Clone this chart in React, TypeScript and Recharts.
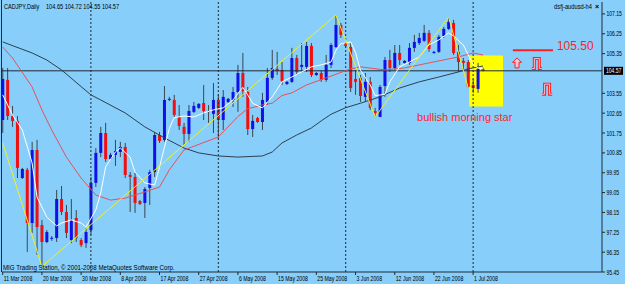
import React from 'react';
import {
  ComposedChart,
  Bar,
  Line,
  XAxis,
  YAxis,
  ReferenceLine,
  ReferenceArea,
  ReferenceDot,
} from 'recharts';

// ---------- data ----------
const dateLabels = [
  '11 Mar 2008', '20 Mar 2008', '30 Mar 2008', '8 Apr 2008', '17 Apr 2008',
  '27 Apr 2008', '6 May 2008', '15 May 2008', '25 May 2008', '3 Jun 2008',
  '12 Jun 2008', '22 Jun 2008', '1 Jul 2008',
];
const labelBars = [0, 8, 16, 24, 32, 40, 48, 56, 64, 72, 80, 88, 96];
const monthStartBars = [18, 44, 70, 96];
const priceTicks = [107.15, 106.25, 105.35, 103.55, 102.65, 101.75, 100.85, 99.95, 99.05, 98.15, 97.25, 96.35, 95.45];

const opens = [
  102.34, 104.16, 102.52, 102.3, 99.71, 100.08, 97.67, 100.98, 97.58, 96.81,
  96.98, 96.99, 98.76, 98.17, 96.9, 97.9, 96.9, 96.76, 97.35, 99.49,
  100.85, 101.75, 100.57, 100.76, 100.89, 101.12, 99.85, 99.76, 98.67, 98.58,
  99.26, 99.98, 101.66, 101.44, 103.28, 103.25, 102.48, 102.03, 101.71, 102.71,
  102.89, 103.11, 102.75, 102.62, 103.25, 102.34, 103.16, 103.25, 103.61, 104.47,
  103.61, 101.93, 102.43, 102.25, 103.16, 104.25, 104.66, 104.61, 103.97, 104.07,
  105.15, 104.75, 104.75, 105.7, 104.38, 104.47, 104.16, 104.84, 105.65, 106.65,
  105.83, 105.65, 104.2, 104.25, 103.39, 104.07, 102.75, 102.48, 103.88, 105.06,
  104.7, 105.38, 104.93, 104.93, 105.61, 105.83, 105.93, 106.29, 105.38, 105.43,
  106.15, 106.47, 106.74, 105.43, 105.02, 104.97, 103.93, 103.75, 104.65,
];
const highs = [
  104.7, 104.7, 102.98, 102.52, 100.17, 100.17, 101.35, 101.44, 97.81, 97.35,
  97.08, 99.17, 99.35, 98.49, 98.76, 98.26, 96.99, 97.44, 99.76, 101.07,
  102.03, 102.21, 100.85, 101.44, 101.35, 101.3, 99.98, 99.94, 98.71, 99.3,
  100.08, 101.8, 101.8, 103.88, 103.39, 103.48, 103.02, 102.21, 103.02, 103.16,
  103.11, 103.93, 103.02, 104.02, 103.48, 103.7, 103.34, 103.84, 104.84, 105.38,
  103.84, 102.57, 102.48, 103.57, 104.7, 105.52, 105.43, 104.97, 104.11, 105.61,
  105.29, 105.83, 105.88, 105.83, 104.52, 104.57, 105.29, 105.83, 107.1, 106.74,
  105.88, 105.83, 104.61, 104.38, 104.47, 104.29, 102.89, 103.93, 105.2, 105.52,
  105.74, 105.74, 105.06, 105.83, 106.2, 106.29, 106.65, 106.42, 105.47, 106.2,
  106.56, 107.01, 106.88, 105.74, 105.15, 105.06, 104.2, 104.93, 104.72,
];
const lows = [
  101.75, 102.34, 102.03, 99.71, 99.67, 96.36, 97.22, 96.22, 95.68, 96.76,
  96.86, 96.81, 98.03, 96.99, 96.76, 96.81, 96.58, 96.54, 97.13, 99.3,
  100.66, 100.44, 100.53, 100.26, 100.66, 99.71, 98.17, 98.13, 98.49, 97.9,
  98.49, 99.76, 101.3, 101.35, 103.2, 102.48, 101.89, 101.21, 101.35, 102.66,
  102.84, 102.34, 102.21, 101.75, 101.53, 101.89, 103.11, 102.93, 102.71, 103.39,
  101.66, 101.57, 102.21, 101.89, 103.02, 104.16, 104.38, 103.93, 103.93, 104.02,
  104.38, 104.52, 104.52, 104.29, 104.34, 104.07, 104.07, 104.7, 105.61, 106.06,
  105.65, 103.61, 103.48, 103.16, 103.16, 102.8, 102.48, 102.48, 103.39, 104.52,
  104.61, 104.84, 104.9, 104.84, 105.43, 105.74, 105.88, 105.43, 105.34, 105.38,
  106.06, 106.42, 105.29, 104.52, 104.52, 103.79, 103.57, 103.57, 104.55,
];
const closes = [
  104.2, 102.52, 102.3, 100.17, 100.12, 97.67, 100.98, 97.49, 96.81, 97.26,
  97.0, 98.76, 98.17, 97.22, 97.81, 96.99, 96.67, 97.26, 99.49, 100.85,
  101.75, 100.57, 100.76, 100.94, 101.12, 99.85, 99.76, 98.58, 98.53, 99.21,
  99.98, 101.66, 101.39, 103.25, 103.3, 102.57, 102.07, 101.71, 102.75, 102.98,
  103.07, 102.75, 102.7, 103.25, 102.34, 103.39, 103.3, 103.61, 104.47, 103.66,
  101.93, 102.3, 102.25, 103.25, 104.25, 104.7, 104.57, 104.11, 104.07, 105.15,
  104.52, 104.84, 105.7, 104.38, 104.47, 104.16, 104.84, 105.74, 106.65, 106.2,
  105.7, 103.79, 104.07, 103.43, 104.07, 102.89, 102.66, 103.84, 105.06, 104.7,
  105.38, 105.06, 105.02, 105.61, 105.88, 106.06, 106.29, 105.56, 105.43, 106.11,
  106.47, 106.79, 105.38, 104.97, 104.93, 103.84, 103.79, 104.66, 104.57,
];

// moving averages (bar index, value)
const fastMaBars = [0, 2, 4, 6, 7, 9, 11, 12, 14, 16, 17, 19, 20, 21, 23, 24, 26, 27, 29, 31, 32, 33, 34, 35, 37, 39, 41, 43, 45, 47, 49, 50, 51, 53, 55, 57, 59, 61, 63, 65, 67, 68, 69, 71, 72, 73, 75, 76, 78, 79, 81, 83, 85, 87, 89, 91, 92, 94, 95, 96, 97, 98];
const fastMaValues = [103.48, 102.57, 101.89, 100.39, 98.85, 97.94, 97.54, 97.67, 97.81, 97.67, 97.49, 98.26, 99.03, 100.21, 100.89, 101.07, 100.66, 99.98, 99.49, 99.39, 100.2, 101.1, 101.95, 102.45, 102.52, 102.48, 102.66, 102.8, 102.89, 103.25, 103.82, 103.48, 103.1, 102.89, 103.39, 104.07, 104.29, 104.52, 104.75, 104.84, 104.97, 105.5, 105.8, 105.88, 105.4, 104.6, 103.93, 103.45, 103.5, 104.07, 104.75, 104.97, 105.2, 105.75, 105.97, 106.29, 106.15, 105.74, 105.3, 104.85, 104.7, 104.66];

const midMaBars = [0, 2, 6, 8, 10, 13, 16, 19, 22, 25, 27, 29, 32, 34, 37, 44, 48, 50, 53, 55, 57, 59, 62, 66, 71, 73, 78, 82, 87, 93, 96, 98];
const midMaValues = [105.65, 105.15, 103.84, 102.8, 101.89, 100.66, 99.71, 98.94, 98.71, 98.8, 98.94, 99.08, 99.3, 100.08, 100.98, 101.57, 102.5, 102.85, 103.02, 103.1, 103.45, 103.57, 103.93, 104.25, 104.66, 104.75, 104.61, 104.7, 104.93, 105.2, 105.38, 105.29];

const slowMaBars = [0, 6, 9, 12, 18, 20, 25, 29, 33, 37, 40, 44, 48, 53, 55, 57, 60, 63, 65, 67, 70, 73, 77, 81, 85, 89, 93, 95, 98];
const slowMaValues = [105.88, 105.38, 105.06, 104.61, 103.48, 103.25, 102.66, 102.03, 101.53, 101.07, 100.85, 100.71, 100.66, 100.71, 100.89, 101.3, 101.66, 101.98, 102.3, 102.6, 102.9, 103.1, 103.39, 103.79, 104.07, 104.29, 104.52, 104.66, 104.79];

const zigzagBars = [0, 8, 68, 76, 91, 95];
const zigzagValues = [101.3, 95.7, 107.1, 102.48, 107.01, 103.79];

const lastClose = 104.57;
const targetLevel = 105.5;

// ---------- derived tables ----------
const candles = opens.map((o, i) => ({ i, o, h: highs[i], l: lows[i], c: closes[i] }));
const toPts = (bars: number[], vals: number[]) => bars.map((b, k) => ({ i: b, v: vals[k] }));
const fastMa = toPts(fastMaBars, fastMaValues);
const midMa = toPts(midMaBars, midMaValues);
const slowMa = toPts(slowMaBars, slowMaValues);
const zigzag = toPts(zigzagBars, zigzagValues);

// ---------- styles ----------
const BG = '#87cefa';
const AXIS = '#1e2a36';
const WICK = '#3c4650';
const UP = '#1010e8';
const DOWN = '#f01010';
const FONT = "'Liberation Sans', Arial, sans-serif";
const ANN_RED = '#ff1e1e';
const ANN_FILL = '#f6c4d6';

// small, horizontally condensed text (imitates the terminal's narrow font)
const NText = (p: {
  x: number; y: number; size?: number; sx?: number; anchor?: string; fill?: string; weight?: string; children: any;
}) => (
  <text
    transform={`translate(${p.x},${p.y}) scale(${p.sx ?? 0.8},1)`}
    fontSize={p.size ?? 7}
    fontFamily={FONT}
    fill={p.fill ?? '#000'}
    textAnchor={p.anchor ?? 'start'}
    fontWeight={p.weight ?? 'normal'}
  >
    {p.children}
  </text>
);

const Candle = (props: any) => {
  const { x, y, width, height, payload } = props;
  if (!payload || x == null || y == null) return null;
  const { o, h, l, c } = payload;
  const cx = x + width / 2;
  const span = h - l;
  const toY = (v: number) => (span > 0 ? y + ((h - v) / span) * height : y);
  const yo = toY(o);
  const yc = toY(c);
  const up = c >= o;
  const top = Math.min(yo, yc);
  const bh = Math.max(Math.abs(yc - yo), 1);
  return (
    <g>
      <line x1={cx} x2={cx} y1={y} y2={y + height} stroke={WICK} strokeWidth={1} />
      <rect x={cx - 1.5} y={top} width={3} height={bh} fill={up ? UP : DOWN} />
    </g>
  );
};

const XTick = (props: any) => {
  const { x, y, payload } = props;
  const idx = labelBars.indexOf(payload.value);
  return (
    <NText x={x + 1} y={y + 4.3} sx={0.74}>
      {idx >= 0 ? dateLabels[idx] : ''}
    </NText>
  );
};

const YTick = (props: any) => {
  const { x, y, payload } = props;
  return (
    <NText x={x - 0.5} y={y + 2.5} sx={0.72}>
      {Number(payload.value).toFixed(2)}
    </NText>
  );
};

const PriceTag = (props: any) => {
  const { cx, cy } = props;
  return (
    <g>
      <rect x={cx + 2} y={cy - 4} width={19} height={8} fill="#000" />
      <NText x={cx + 4} y={cy + 2.5} sx={0.72} fill="#fff">
        {lastClose.toFixed(2)}
      </NText>
    </g>
  );
};

const TextMark = (text: string, size: number) => (props: any) => (
  <text x={props.cx} y={props.cy} fontSize={size} fontFamily="'Liberation Sans', Arial, sans-serif" fill={ANN_RED}>
    {text}
  </text>
);

const UpArrow = (props: any) => {
  const { cx, cy } = props;
  const d = `M${cx},${cy - 5} L${cx + 4.5},${cy - 0.5} L${cx + 2},${cy - 0.5} L${cx + 2},${cy + 5} L${cx - 2},${cy + 5} L${cx - 2},${cy - 0.5} L${cx - 4.5},${cy - 0.5} Z`;
  return <path d={d} fill={ANN_FILL} stroke={ANN_RED} strokeWidth={1} />;
};

const Pulse = (props: any) => {
  const { cx, cy } = props;
  const d = `M${cx - 5},${cy + 5} L${cx - 2.5},${cy + 5} L${cx - 2.5},${cy - 5} L${cx + 2.5},${cy - 5} L${cx + 2.5},${cy + 5} L${cx + 5},${cy + 5}`;
  return (
    <g>
      <path d={d} fill="none" stroke={ANN_RED} strokeWidth={3} />
      <path d={d} fill="none" stroke={ANN_FILL} strokeWidth={1} />
    </g>
  );
};

export default function App() {
  return (
    <div style={{ position: 'absolute', left: 0, top: 0, width: 625, height: 284, background: BG, overflow: 'hidden' }}>
      <ComposedChart width={625} height={284} data={candles} margin={{ top: 2, right: 0, bottom: 0, left: 2 }}>
        <XAxis
          type="number"
          dataKey="i"
          domain={[-0.143, 122.3]}
          allowDataOverflow
          ticks={labelBars}
          interval={0}
          height={12}
          tickSize={3}
          tickLine={{ stroke: AXIS }}
          axisLine={{ stroke: AXIS }}
          tick={<XTick />}
        />
        <YAxis
          orientation="right"
          domain={[95.45, 107.69]}
          allowDataOverflow
          ticks={priceTicks}
          interval={0}
          width={23}
          tickSize={3}
          tickLine={{ stroke: AXIS }}
          axisLine={{ stroke: AXIS }}
          tick={<YTick />}
        />
        <ReferenceArea x1={95.2} x2={102.1} y1={102.95} y2={105.26} fill="#ffff00" fillOpacity={1} stroke="none" />
        {monthStartBars.map((b) => (
          <ReferenceLine key={b} x={b} stroke={AXIS} strokeDasharray="2 2" strokeWidth={1} />
        ))}
        <ReferenceLine y={lastClose} stroke={AXIS} strokeWidth={1} />
        <Bar dataKey={(d: any) => [d.l, d.h]} shape={<Candle />} barSize={3} isAnimationActive={false} />
        <Line data={slowMa} dataKey="v" type="linear" stroke="#2f3f4f" strokeWidth={1} dot={false} isAnimationActive={false} />
        <Line data={midMa} dataKey="v" type="linear" stroke="#e8505a" strokeWidth={1} dot={false} isAnimationActive={false} />
        <Line data={fastMa} dataKey="v" type="linear" stroke="#ffffff" strokeWidth={1} dot={false} isAnimationActive={false} />
        <Line data={zigzag} dataKey="v" type="linear" stroke="#f0f020" strokeWidth={1} dot={false} isAnimationActive={false} />
        <ReferenceLine
          segment={[{ x: 104.1, y: targetLevel }, { x: 112.3, y: targetLevel }]}
          stroke={ANN_RED}
          strokeWidth={2}
        />
        <ReferenceDot x={113.1} y={targetLevel} r={0} ifOverflow="visible" shape={TextMark('105.50', 12) as any} />
        <ReferenceDot x={84.55} y={102.3} r={0} ifOverflow="visible" shape={TextMark('bullish morning star', 11) as any} />
        <ReferenceDot x={104.96} y={104.93} r={0} ifOverflow="visible" shape={UpArrow as any} />
        <ReferenceDot x={109.0} y={104.9} r={0} ifOverflow="visible" shape={Pulse as any} />
        <ReferenceDot x={111.1} y={103.74} r={0} ifOverflow="visible" shape={Pulse as any} />
        <ReferenceDot x={122.3} y={lastClose} r={0} ifOverflow="visible" shape={PriceTag as any} />
      </ComposedChart>
      <svg width={625} height={284} style={{ position: 'absolute', left: 0, top: 0, pointerEvents: 'none' }}>
        <line x1={1.5} x2={1.5} y1={0} y2={272} stroke={AXIS} strokeWidth={1} />
        <NText x={4} y={8.5} sx={0.8}>CADJPY,Daily</NText>
        <NText x={46} y={8.5} sx={0.8}>104.65 104.72 104.55 104.57</NText>
        <NText x={3} y={269.5} sx={0.88}>
          MIG Trading Station, © 2001-2008 MetaQuotes Software Corp.
        </NText>
        <NText x={592} y={9} sx={0.82} anchor="end">dsfj-audusd-h4</NText>
        <NText x={595} y={9} size={7} sx={1} weight="bold">×</NText>
      </svg>
    </div>
  );
}
